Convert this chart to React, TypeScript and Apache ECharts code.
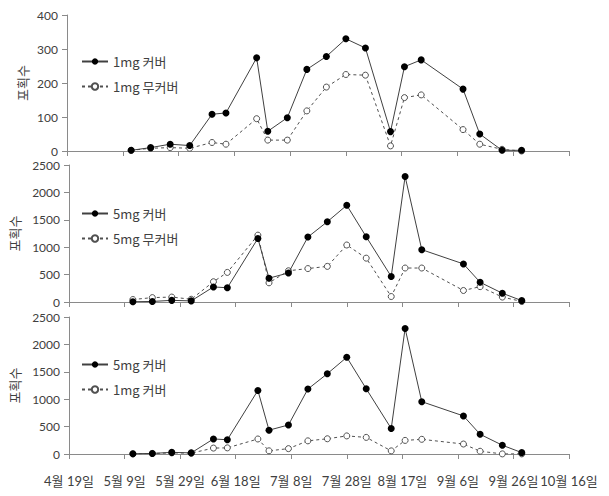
import React, { useEffect, useRef } from "react";
import * as echarts from "echarts";

// Survey dates (month-day), day offsets are measured from the first x tick (4월 19일)
const startDate = "04-19";
const dates = [
  "05-12", "05-19", "05-26", "06-02", "06-10", "06-15", "06-26", "06-30", "07-07", "07-14",
  "07-21", "07-28", "08-04", "08-13", "08-18", "08-24", "09-08", "09-14", "09-22", "09-29",
];
const xTickLabels = [
  "4월 19일", "5월 9일", "5월 29일", "6월 18일", "7월 8일",
  "7월 28일", "8월 17일", "9월 6일", "9월 26일", "10월 16일",
];

const cover1mg = [2, 10, 20, 16, 108, 112, 274, 58, 98, 240, 278, 330, 303, 57, 248, 268, 182, 50, 2, 2];
const noCover1mg = [2, 8, 10, 8, 25, 20, 95, 32, 32, 118, 188, 225, 223, 15, 157, 165, 63, 20, 5, 0];
const cover5mg = [5, 10, 30, 20, 275, 260, 1160, 435, 530, 1185, 1465, 1765, 1190, 465, 2290, 955, 695, 360, 160, 25];
const noCover5mg = [45, 80, 90, 50, 370, 540, 1220, 350, 570, 610, 650, 1040, 800, 100, 620, 620, 210, 280, 90, 10];

const yAxisName = "포획수";

function dayOffset(md: string): number {
  const [m, d] = md.split("-").map(Number);
  const [sm, sd] = startDate.split("-").map(Number);
  return (Date.UTC(2013, m - 1, d) - Date.UTC(2013, sm - 1, sd)) / 86400000;
}

const FONT = "'Noto Sans CJK KR', 'Noto Sans', sans-serif";
const NUMFONT = "Lato, 'Noto Sans CJK KR', sans-serif";
const TEXT = "#404040";
const AXIS = "#8a8a8a";

export default function App() {
  const ref = useRef<HTMLDivElement>(null);
  useEffect(() => {
    if (!ref.current) return;
    const chart = echarts.init(ref.current, undefined, { renderer: "svg" });
    const pts = (vals: number[]) => dates.map((d, i) => [dayOffset(d), vals[i]]);

    const grids = [
      { left: 67, right: 40, top: 15, height: 136 },
      { left: 67, right: 40, top: 165, height: 137 },
      { left: 67, right: 40, top: 317, height: 137 },
    ];

    const xAxes = [0, 1, 2].map((i) => ({
      type: "value",
      gridIndex: i,
      min: 0,
      max: 180,
      interval: 20,
      axisLine: { show: true, lineStyle: { color: AXIS, width: 1 } },
      axisTick: { show: true, length: 5, lineStyle: { color: AXIS } },
      splitLine: { show: false },
      axisLabel: {
        show: i === 2,
        color: TEXT,
        fontFamily: NUMFONT,
        fontSize: 13,
        margin: 20,
        formatter: (v: number) => xTickLabels[Math.round(v / 20)] ?? "",
      },
    }));

    const yAxis = (i: number, max: number, interval: number, gap: number) => ({
      type: "value",
      gridIndex: i,
      min: 0,
      max,
      interval,
      name: yAxisName,
      nameLocation: "middle",
      nameGap: gap,
      nameMoveOverlap: false,
      nameTextStyle: { color: TEXT, fontFamily: FONT, fontSize: 13 },
      axisLine: { show: true, lineStyle: { color: AXIS, width: 1 } },
      axisTick: { show: true, length: 5, lineStyle: { color: AXIS } },
      splitLine: { show: false },
      axisLabel: {
        color: TEXT,
        fontFamily: NUMFONT,
        fontSize: 12,
        lineHeight: 12,
        margin: 9,
        formatter: (v: number) => String(v),
      },
    });

    const solid = (name: string, vals: number[], idx: number) => ({
      type: "line",
      name,
      xAxisIndex: idx,
      yAxisIndex: idx,
      data: pts(vals),
      symbol: "circle",
      symbolSize: 7,
      lineStyle: { color: "#404040", width: 1 },
      itemStyle: { color: "#000000" },
      z: 3,
    });
    const dashed = (name: string, vals: number[], idx: number) => ({
      type: "line",
      name,
      xAxisIndex: idx,
      yAxisIndex: idx,
      data: pts(vals),
      symbol: "circle",
      symbolSize: 6,
      lineStyle: { color: "#505050", width: 1, type: [3, 3] },
      itemStyle: { color: "#ffffff", borderColor: "#505050", borderWidth: 1 },
      z: 2,
    });

    const legend = (names: string[], top: number) => ({
      orient: "vertical",
      left: 81,
      top,
      padding: 0,
      itemWidth: 26,
      itemHeight: 8,
      itemGap: 12,
      data: names,
      formatter: (n: string) => n.trim(),
      textStyle: { color: TEXT, fontFamily: FONT, fontSize: 13 },
    });

    chart.setOption({
      animation: false,
      backgroundColor: "#ffffff",
      grid: grids,
      xAxis: xAxes,
      yAxis: [yAxis(0, 400, 100, 38), yAxis(1, 2500, 500, 48), yAxis(2, 2500, 500, 48)],
      legend: [
        legend(["1mg 커버", "1mg 무커버"], 55),
        legend(["5mg 커버", "5mg 무커버"], 207),
        legend(["5mg 커버 ", "1mg 커버 "], 358),
      ],
      series: [
        dashed("1mg 무커버", noCover1mg, 0),
        solid("1mg 커버", cover1mg, 0),
        dashed("5mg 무커버", noCover5mg, 1),
        solid("5mg 커버", cover5mg, 1),
        dashed("1mg 커버 ", cover1mg, 2),
        solid("5mg 커버 ", cover5mg, 2),
      ],
    });
    return () => chart.dispose();
  }, []);
  return (
    <div
      ref={ref}
      style={{ position: "fixed", left: 0, top: 0, width: 609, height: 496, background: "#fff" }}
    />
  );
}
